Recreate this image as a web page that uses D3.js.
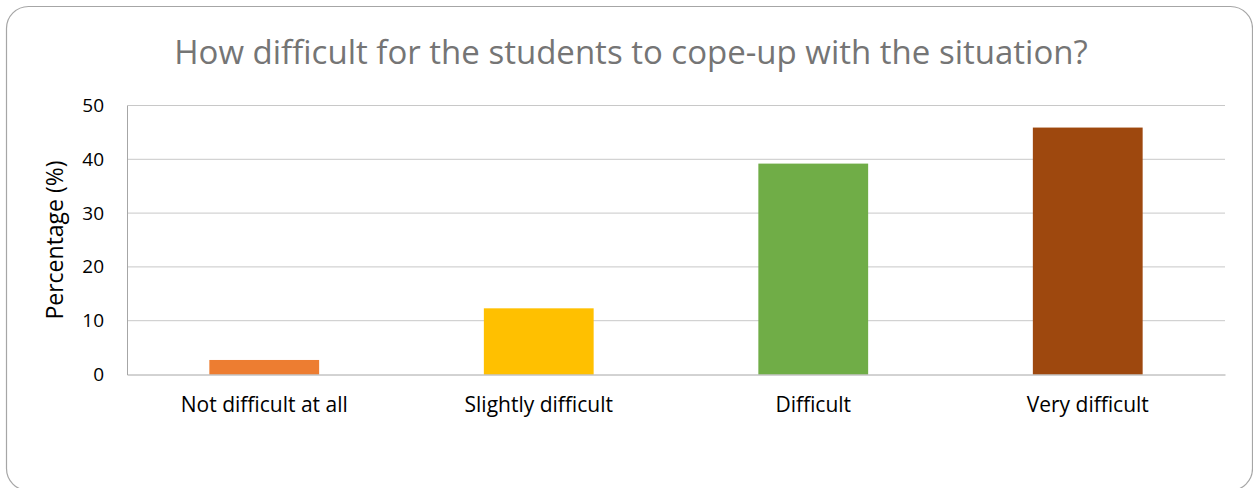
<!DOCTYPE html>
<html>
<head>
<meta charset="utf-8">
<script src="https://cdn.jsdelivr.net/npm/d3@7"></script>
<style>
  body { margin: 0; background: #fff; }
  svg { display: block; font-family: "Open Sans", Lato, sans-serif; }
</style>
</head>
<body>
<script>
var categories = ["Not difficult at all", "Slightly difficult", "Difficult", "Very difficult"];
var values = [2.7, 12.3, 39.2, 45.9];
var colors = ["#ED7D31", "#FFC000", "#70AD47", "#9E480E"];
var yTicks = [0, 10, 20, 30, 40, 50];
var title = "How difficult for the students to cope-up with the situation?";

var svg = d3.select("body").append("svg")
  .attr("width", 1253)
  .attr("height", 488);

// Frame
svg.append("rect")
  .attr("x", 6.5).attr("y", 6.5)
  .attr("width", 1246).attr("height", 484)
  .attr("rx", 22).attr("ry", 22)
  .attr("fill", "#fff")
  .attr("stroke", "#a6a6a6")
  .attr("stroke-width", 1.2);

var plotLeft = 127, plotRight = 1225, plotTop = 105.5, plotBottom = 374.5;

var x = d3.scaleBand()
  .domain(categories)
  .range([plotLeft, plotRight])
  .paddingInner(0.6)
  .paddingOuter(0.3);

var y = d3.scaleLinear()
  .domain([0, 50])
  .range([plotBottom, plotTop]);

// Gridlines
svg.append("g")
  .selectAll("line")
  .data(yTicks.slice(1))
  .join("line")
  .attr("x1", plotLeft).attr("x2", plotRight)
  .attr("y1", d => y(d)).attr("y2", d => y(d))
  .attr("stroke", "#c8c8c8")
  .attr("stroke-width", 1);

// Y axis
var yAxis = svg.append("g")
  .attr("transform", "translate(" + plotLeft + ",0)")
  .call(d3.axisLeft(y).tickValues(yTicks).tickSize(0).tickPadding(23));
yAxis.select(".domain").attr("stroke", "#a6a6a6");
yAxis.selectAll("text")
  .attr("font-size", 19)
  .attr("fill", "#000")
  .attr("font-family", "'Open Sans', sans-serif");

// Bars
svg.append("g")
  .selectAll("rect")
  .data(values)
  .join("rect")
  .attr("x", (d, i) => x(categories[i]))
  .attr("y", d => y(d))
  .attr("width", x.bandwidth())
  .attr("height", d => y(0) - y(d))
  .attr("fill", (d, i) => colors[i]);

// X axis
var xAxis = svg.append("g")
  .attr("transform", "translate(0," + plotBottom + ")")
  .call(d3.axisBottom(x).tickSize(0).tickPadding(23));
xAxis.select(".domain").attr("stroke", "#a6a6a6");
xAxis.selectAll("text")
  .attr("font-size", 21)
  .attr("fill", "#000")
  .attr("font-family", "'Open Sans', sans-serif");

// Y label
svg.append("text")
  .attr("transform", "translate(63,240) rotate(-90)")
  .attr("text-anchor", "middle")
  .attr("font-size", 23)
  .attr("fill", "#000")
  .text("Percentage (%)");

// Title
svg.append("text")
  .attr("x", 631)
  .attr("y", 64)
  .attr("text-anchor", "middle")
  .attr("font-size", 33)
  .attr("fill", "#757575")
  .text(title);
</script>
</body>
</html>
